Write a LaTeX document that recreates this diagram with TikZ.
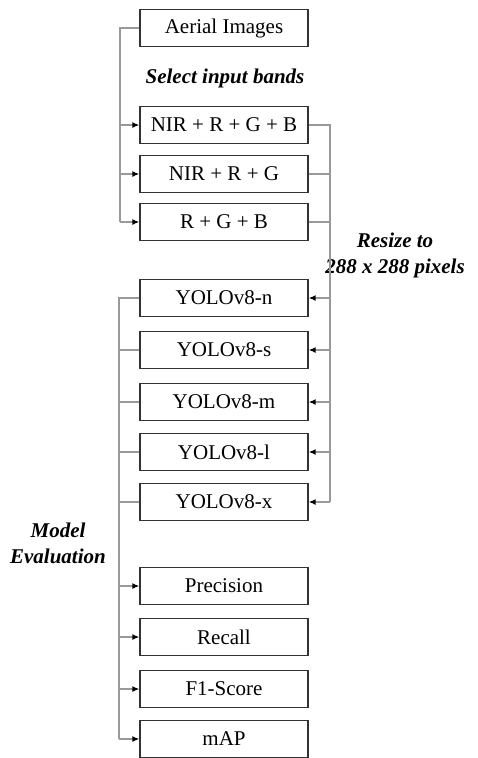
\documentclass[tikz,border=0pt]{standalone}
\usepackage{fontspec}
\setmainfont{Liberation Serif}
\usetikzlibrary{arrows.meta}
\begin{document}
\begin{tikzpicture}[x=1pt,y=-1pt,
  box/.style={draw=black!80,line width=1.3pt,minimum width=168pt,minimum height=37pt,inner sep=0pt,font=\fontsize{21}{24}\selectfont},
  lbl/.style={font=\fontsize{21}{26}\selectfont\bfseries\itshape,align=center},
  conn/.style={draw=black!40,line width=1.4pt},
  arr/.style={conn,-{Latex[black,length=7pt,width=6pt]}}]
\useasboundingbox (0,0) rectangle (478,758);
\node[box] (ai) at (224,28) {Aerial Images};
\node[lbl] (sib) at (225,78) {Select input bands};
\node[box] (b1) at (224,125) {NIR + R + G + B};
\node[box] (b2) at (224,174) {NIR + R + G};
\node[box] (b3) at (224,222) {R + G + B};
\node[lbl] (rs) at (395,255) {Resize to\\288 x 288 pixels};
\node[box] (yn) at (224,298) {YOLOv8-n};
\node[box] (ys) at (224,350) {YOLOv8-s};
\node[box] (ym) at (224,402) {YOLOv8-m};
\node[box] (yl) at (224,452) {YOLOv8-l};
\node[box] (yx) at (224,502) {YOLOv8-x};
\node[lbl] (me) at (58,543) {Model\\Evaluation};
\node[box] (pr) at (224,586) {Precision};
\node[box] (re) at (224,637) {Recall};
\node[box] (f1) at (224,689) {F1-Score};
\node[box] (map) at (224,739) {mAP};
% left bus 1
\coordinate (l1) at (120,0);
\draw[conn] (ai.west) -- (ai.west -| l1) -- (b3.west -| l1);
\foreach \b in {b1,b2,b3} \draw[arr] (\b.west -| l1) -- (\b.west);
% right bus
\coordinate (r1) at (330,0);
\draw[conn] (b1.east) -- (b1.east -| r1) -- (yx.east -| r1);
\foreach \b in {b2,b3} \draw[conn] (\b.east) -- (\b.east -| r1);
\foreach \b in {yn,ys,ym,yl,yx} \draw[arr] (\b.east -| r1) -- (\b.east);
% left bus 2
\coordinate (l2) at (119,0);
\draw[conn] (yn.west) -- (yn.west -| l2) -- (map.west -| l2);
\foreach \b in {ys,ym,yl,yx} \draw[conn] (\b.west) -- (\b.west -| l2);
\foreach \b in {pr,re,f1,map} \draw[arr] (\b.west -| l2) -- (\b.west);
\end{tikzpicture}
\end{document}
